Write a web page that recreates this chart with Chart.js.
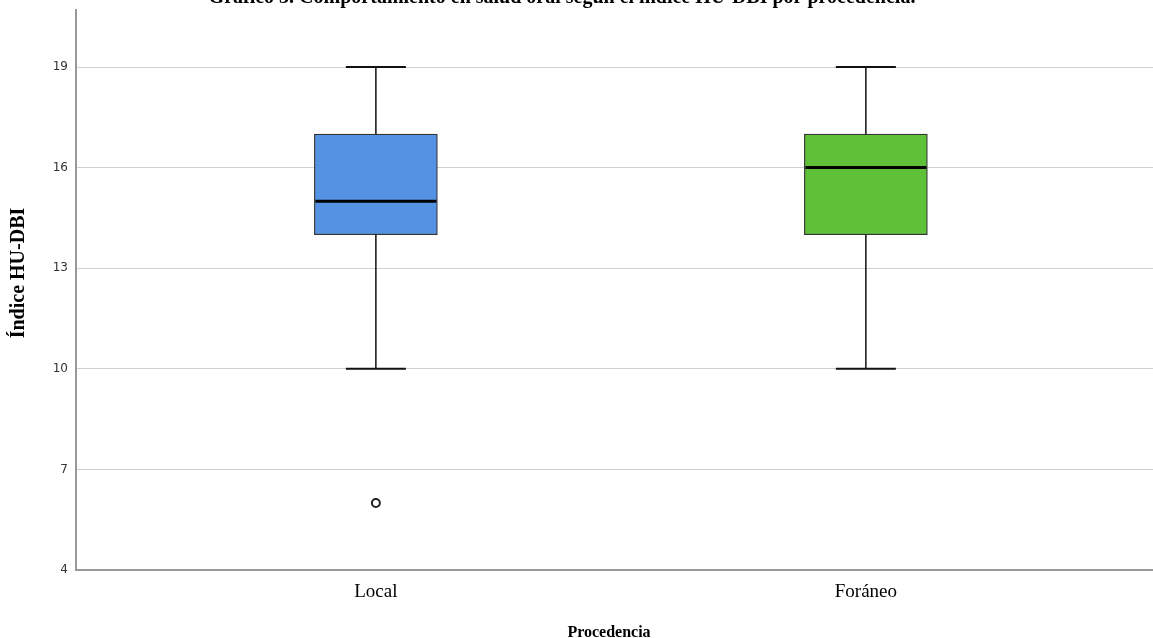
<!DOCTYPE html>
<html>
<head>
<meta charset="utf-8">
<script src="https://cdn.jsdelivr.net/npm/chart.js@4"></script>
<style>
  html, body { margin: 0; padding: 0; background: #fff; overflow: hidden; width: 1153px; height: 638px; }
  #wrap { position: absolute; left: 0; top: -20px; width: 1159px; height: 666px; }
</style>
</head>
<body>
<div id="wrap"><canvas id="chart"></canvas></div>
<script>
// Procedencia groups and their HU-DBI five-number summaries
const categories = ['Local', 'Foráneo'];
const whiskerLow = [10, 10];
const quartile1 = [14, 14];
const medians = [15, 16];
const quartile3 = [17, 17];
const whiskerHigh = [19, 19];
const outlierGroup = [1];      // 1-based group position
const outlierValues = [6];
const yTicks = [4, 7, 10, 13, 16, 19];
const boxColors = ['#5493e3', '#5ec138'];

const chartTitle = 'Gráfico 3. Comportamiento en salud oral según el índice HU-DBI por procedencia.';
const yTitle = 'Índice HU-DBI';
const xTitle = 'Procedencia';

const serif = '"Liberation Serif", "Times New Roman", serif';

// whiskers, caps, medians and the axis / chart titles
const boxplotExtras = {
  id: 'boxplotExtras',
  afterDatasetsDraw(chart) {
    const { ctx, scales: { x, y } } = chart;
    const boxHalf = 61.5, capHalf = 30;
    ctx.save();
    categories.forEach((c, i) => {
      const px = x.getPixelForValue(i + 1);
      ctx.strokeStyle = '#111';
      ctx.lineWidth = 1.5;
      ctx.beginPath();
      ctx.moveTo(px, y.getPixelForValue(whiskerLow[i]));
      ctx.lineTo(px, y.getPixelForValue(quartile1[i]));
      ctx.moveTo(px, y.getPixelForValue(quartile3[i]));
      ctx.lineTo(px, y.getPixelForValue(whiskerHigh[i]));
      ctx.stroke();
      ctx.lineWidth = 2;
      ctx.beginPath();
      [whiskerLow[i], whiskerHigh[i]].forEach(v => {
        const py = y.getPixelForValue(v);
        ctx.moveTo(px - capHalf, py);
        ctx.lineTo(px + capHalf, py);
      });
      ctx.stroke();
      ctx.strokeStyle = '#000';
      ctx.lineWidth = 3;
      ctx.beginPath();
      const pm = y.getPixelForValue(medians[i]);
      ctx.moveTo(px - boxHalf + 1, pm);
      ctx.lineTo(px + boxHalf - 1, pm);
      ctx.stroke();
    });
    ctx.restore();
  },
  afterDraw(chart) {
    const { ctx } = chart;
    ctx.save();
    ctx.fillStyle = '#000';
    ctx.textAlign = 'center';
    ctx.textBaseline = 'alphabetic';
    ctx.font = 'bold 20px ' + serif;
    ctx.fillText(chartTitle, 562, 23);
    ctx.font = 'bold 16px ' + serif;
    ctx.fillText(xTitle, 609, 657);
    ctx.translate(19, 293);
    ctx.rotate(-Math.PI / 2);
    ctx.textBaseline = 'middle';
    ctx.font = 'bold 20px ' + serif;
    ctx.fillText(yTitle, 0, 0);
    ctx.restore();
  }
};

new Chart(document.getElementById('chart'), {
  type: 'bar',
  data: {
    datasets: [
      {
        type: 'bar',
        data: categories.map((c, i) => ({ x: i + 1, y: [quartile1[i], quartile3[i]] })),
        backgroundColor: boxColors,
        borderColor: '#333',
        borderWidth: 1.2,
        borderSkipped: false,
        barThickness: 123,
        order: 2
      },
      {
        type: 'scatter',
        data: outlierValues.map((v, i) => ({ x: outlierGroup[i], y: v })),
        pointRadius: 4,
        pointBorderWidth: 2,
        pointBackgroundColor: '#fff',
        pointBorderColor: '#222',
        order: 1
      }
    ]
  },
  options: {
    responsive: true,
    maintainAspectRatio: false,
    animation: false,
    layout: { padding: { top: 30, right: 0, bottom: 0, left: 0 } },
    plugins: { legend: { display: false }, tooltip: { enabled: false }, title: { display: false } },
    scales: {
      x: {
        type: 'linear',
        offset: false,
        bounds: 'data',
        min: 0.388,
        max: 2.586,
        afterFit(s) { s.height = 76; },
        afterBuildTicks(s) { s.ticks = categories.map((c, i) => ({ value: i + 1 })); },
        grid: { display: false, drawTicks: false },
        border: { display: true, color: '#999', width: 2 },
        ticks: {
          padding: 11,
          color: '#000',
          font: { family: serif, size: 19 },
          callback: v => categories[v - 1]
        }
      },
      y: {
        type: 'linear',
        min: 4,
        max: 20.7,
        afterFit(s) { s.width = 76; },
        afterBuildTicks(s) { s.ticks = yTicks.map(v => ({ value: v })); },
        grid: { color: '#cfcfcf', lineWidth: 1, drawTicks: false },
        border: { display: true, color: '#999', width: 2 },
        ticks: {
          padding: 8,
          color: '#333',
          font: { family: '"DejaVu Sans", sans-serif', size: 12 }
        }
      }
    }
  },
  plugins: [boxplotExtras]
});
</script>
</body>
</html>
